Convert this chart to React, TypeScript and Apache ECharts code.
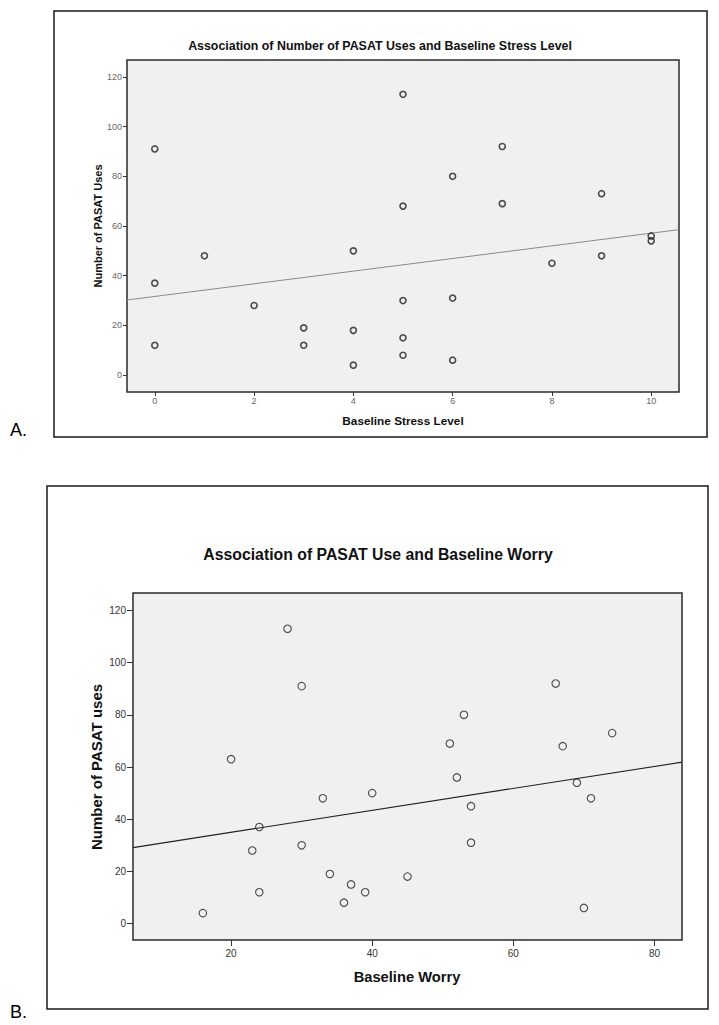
import React, { useEffect, useRef } from "react";
import * as echarts from "echarts";

// Panel A: Baseline Stress Level vs Number of PASAT Uses
const stressLevel = [0, 0, 0, 1, 2, 3, 3, 4, 4, 4, 5, 5, 5, 5, 5, 6, 6, 6, 7, 7, 8, 9, 9, 10, 10];
const stressUses = [91, 37, 12, 48, 28, 19, 12, 50, 18, 4, 113, 68, 30, 15, 8, 80, 31, 6, 92, 69, 45, 73, 48, 56, 54];
const stressTicks = [0, 2, 4, 6, 8, 10];

// Panel B: Baseline Worry vs Number of PASAT uses
const worryScore = [16, 20, 23, 24, 24, 28, 30, 30, 33, 34, 36, 37, 39, 40, 45, 51, 52, 53, 54, 54, 66, 67, 69, 70, 71, 74];
const worryUses = [4, 63, 28, 37, 12, 113, 91, 30, 48, 19, 8, 15, 12, 50, 18, 69, 56, 80, 45, 31, 92, 68, 54, 6, 48, 73];
const worryTicks = [20, 40, 60, 80];

const usesTicks = [0, 20, 40, 60, 80, 100, 120];

const titleA = "Association of Number of PASAT Uses and Baseline Stress Level";
const titleB = "Association of PASAT Use and Baseline Worry";

function linearFit(xs: number[], ys: number[]) {
  const n = xs.length;
  const mx = xs.reduce((a, b) => a + b, 0) / n;
  const my = ys.reduce((a, b) => a + b, 0) / n;
  let sxy = 0;
  let sxx = 0;
  for (let i = 0; i < n; i++) {
    sxy += (xs[i] - mx) * (ys[i] - my);
    sxx += (xs[i] - mx) * (xs[i] - mx);
  }
  const slope = sxy / sxx;
  return { slope, intercept: my - slope * mx };
}

const FONT = "Liberation Sans, Arial, Helvetica, sans-serif";

export default function App() {
  const ref = useRef<HTMLDivElement>(null);

  useEffect(() => {
    document.body.style.margin = "0";
    const chart = echarts.init(ref.current!, null, { renderer: "svg" });

    const axA = { min: -0.56, max: 10.56 };
    const axB = { min: 6.1, max: 83.9 };
    const yA = { min: -6.8, max: 126.8 };
    const yB = { min: -6.3, max: 126.7 };

    const fitA = linearFit(stressLevel, stressUses);
    const fitB = linearFit(worryScore, worryUses);

    const lineA = [axA.min, axA.max].map((x) => [x, fitA.intercept + fitA.slope * x]);
    const lineB = [axB.min, axB.max].map((x) => [x, fitB.intercept + fitB.slope * x]);

    const text = (
      t: string,
      x: number,
      y: number,
      size: number,
      weight: string,
      rotation = 0,
      align = "center",
      fill = "#111"
    ) => ({
      type: "text",
      x,
      y,
      rotation,
      silent: true,
      style: {
        text: t,
        fontSize: size,
        fontWeight: weight,
        fontFamily: FONT,
        fill,
        align,
        verticalAlign: "middle",
      },
    });

    const hiddenLine = { show: false, onZero: false };

    chart.setOption({
      animation: false,
      backgroundColor: "#ffffff",
      grid: [
        {
          left: 127,
          top: 60,
          width: 552,
          height: 332,
          show: true,
          backgroundColor: "#f0f0f0",
          borderColor: "#2a2a2a",
          borderWidth: 1.5,
        },
        {
          left: 133,
          top: 593,
          width: 549,
          height: 347,
          show: true,
          backgroundColor: "#f0f0f0",
          borderColor: "#2a2a2a",
          borderWidth: 1.5,
        },
      ],
      xAxis: [
        {
          type: "value",
          gridIndex: 0,
          position: "bottom",
          min: axA.min,
          max: axA.max,
          splitLine: { show: false },
          axisLine: hiddenLine,
          axisTick: { show: true, length: 4, customValues: stressTicks, lineStyle: { color: "#333" } },
          axisLabel: { customValues: stressTicks, fontSize: 9, color: "#666", margin: 4, fontFamily: FONT },
        },
        {
          type: "value",
          gridIndex: 1,
          position: "bottom",
          min: axB.min,
          max: axB.max,
          splitLine: { show: false },
          axisLine: hiddenLine,
          axisTick: { show: true, length: 6, customValues: worryTicks, lineStyle: { color: "#333" } },
          axisLabel: { customValues: worryTicks, fontSize: 10, color: "#333", margin: 8, fontFamily: FONT },
        },
      ],
      yAxis: [
        {
          type: "value",
          gridIndex: 0,
          position: "left",
          min: yA.min,
          max: yA.max,
          splitLine: { show: false },
          axisLine: hiddenLine,
          axisTick: { show: true, length: 4, customValues: usesTicks, lineStyle: { color: "#333" } },
          axisLabel: { customValues: usesTicks, fontSize: 9, color: "#666", margin: 5, fontFamily: FONT },
        },
        {
          type: "value",
          gridIndex: 1,
          position: "left",
          min: yB.min,
          max: yB.max,
          splitLine: { show: false },
          axisLine: hiddenLine,
          axisTick: { show: true, length: 6, customValues: usesTicks, lineStyle: { color: "#333" } },
          axisLabel: { customValues: usesTicks, fontSize: 10, color: "#333", margin: 7, fontFamily: FONT },
        },
      ],
      series: [
        {
          type: "line",
          xAxisIndex: 0,
          yAxisIndex: 0,
          data: lineA,
          symbol: "none",
          clip: true,
          lineStyle: { color: "#8a8a8a", width: 1 },
          z: 2,
        },
        {
          type: "scatter",
          xAxisIndex: 0,
          yAxisIndex: 0,
          data: stressLevel.map((x, i) => [x, stressUses[i]]),
          symbol: "circle",
          symbolSize: 6,
          itemStyle: { color: "rgba(0,0,0,0)", borderColor: "#222", borderWidth: 1.6 },
          z: 3,
        },
        {
          type: "line",
          xAxisIndex: 1,
          yAxisIndex: 1,
          data: lineB,
          symbol: "none",
          clip: true,
          lineStyle: { color: "#222", width: 1.2 },
          z: 2,
        },
        {
          type: "scatter",
          xAxisIndex: 1,
          yAxisIndex: 1,
          data: worryScore.map((x, i) => [x, worryUses[i]]),
          symbol: "circle",
          symbolSize: 7.5,
          itemStyle: { color: "rgba(0,0,0,0)", borderColor: "#222", borderWidth: 1.1 },
          z: 3,
        },
      ],
      graphic: [
        {
          type: "rect",
          silent: true,
          shape: { x: 54, y: 11, width: 653, height: 426 },
          style: { fill: "none", stroke: "#1a1a1a", lineWidth: 1.5 },
        },
        {
          type: "rect",
          silent: true,
          shape: { x: 47, y: 486, width: 661, height: 523 },
          style: { fill: "none", stroke: "#1a1a1a", lineWidth: 1.5 },
        },
        text(titleA, 380, 46, 12.4, "bold"),
        text("Number of PASAT Uses", 98, 226, 11, "bold", Math.PI / 2),
        text("Baseline Stress Level", 403, 421, 11.8, "bold"),
        text(titleB, 378, 554, 15.8, "bold"),
        text("Number of PASAT uses", 96, 767, 15, "bold", Math.PI / 2),
        text("Baseline Worry", 407, 977, 14.7, "bold"),
        text("A.", 10, 430, 18, "normal", 0, "left", "#000"),
        text("B.", 10, 1012, 18, "normal", 0, "left", "#000"),
      ],
    });

    return () => chart.dispose();
  }, []);

  return <div ref={ref} style={{ width: 719, height: 1025 }} />;
}
